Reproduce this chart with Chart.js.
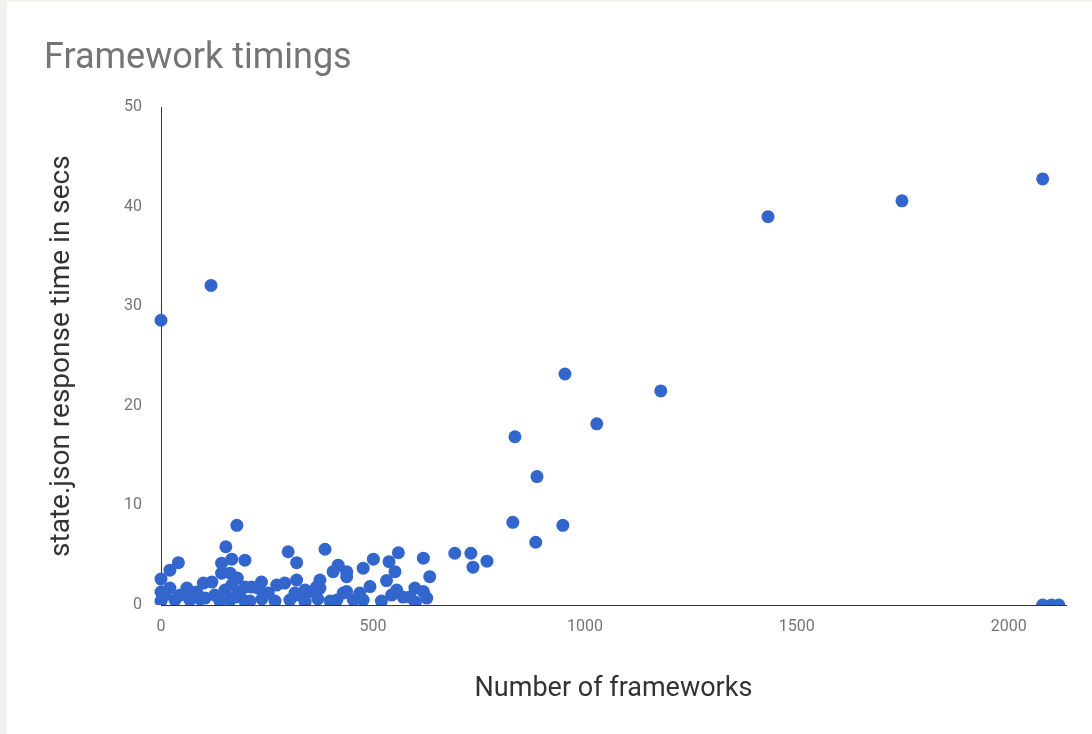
<!DOCTYPE html>
<html>
<head>
<meta charset="utf-8">
<script src="https://cdn.jsdelivr.net/npm/chart.js@4.4.1/dist/chart.umd.min.js"></script>
<style>
  html, body { margin: 0; padding: 0; background: #f2f2ee; }
  .card {
    position: absolute;
    left: 7px; top: 2px;
    width: 1085px; height: 732px;
    background: #fff;
  }
</style>
</head>
<body>
<div class="card"><canvas id="timingsChart"></canvas></div>
<script>
// número de frameworks (x) y tiempo de respuesta de state.json (y)
const frameworks = [
  0, 0, 0, 21, 41, 21, 61, 84, 100, 120,
  143, 153, 167, 163, 143, 180, 198, 198,
  9, 33, 45, 68, 92, 104, 127, 139, 151, 163, 167, 175, 186, 198,
  300, 387, 320, 418, 406, 375, 320, 237, 292, 273, 214, 347, 375, 430, 253, 324, 340, 229, 367, 316,
  210, 238, 269, 304, 340, 370, 399,
  560, 501, 619, 538, 477, 552, 438, 438, 634, 532, 493, 438, 469, 556, 599, 619, 571, 587, 627, 454, 477, 544, 600, 520, 415,
  0, 118, 179, 693, 731, 736, 769, 830, 835, 884, 887, 948, 953, 1028, 1179, 1432, 1748, 2080, 2080, 2101, 2118
];
const responseSecs = [
  2.6, 1.3, 0.4, 3.5, 4.25, 1.7, 1.7, 1.3, 2.2, 2.3,
  4.2, 5.85, 4.6, 3.2, 3.2, 2.7, 4.5, 1.8,
  1.0, 0.5, 1.0, 0.5, 0.6, 0.7, 1.0, 0.4, 1.5, 0.5, 2.0, 0.8, 1.3, 0.4,
  5.35, 5.6, 4.25, 4.0, 3.35, 2.5, 2.5, 2.3, 2.2, 2.0, 1.8, 1.3, 1.7, 1.2, 1.2, 1.0, 1.5, 1.7, 1.8, 1.2,
  0.4, 0.6, 0.4, 0.5, 0.3, 0.6, 0.4,
  5.25, 4.6, 4.7, 4.35, 3.7, 3.35, 3.35, 2.85, 2.85, 2.45, 1.85, 1.35, 1.2, 1.5, 1.7, 1.35, 0.8, 0.8, 0.7, 0.5, 0.5, 1.0, 0.3, 0.4, 0.5,
  28.6, 32.1, 8.0, 5.2, 5.2, 3.8, 4.4, 8.3, 16.9, 6.3, 12.9, 8.0, 23.2, 18.2, 21.5, 39.0, 40.6, 42.8, 0, 0, 0
];
const xTicks = [0, 500, 1000, 1500, 2000];
const yTicks = [0, 10, 20, 30, 40, 50];

const gray = '#757575';
const points = frameworks.map((x, i) => ({ x: x, y: responseSecs[i] }));

const ctx = document.getElementById('timingsChart').getContext('2d');
new Chart(ctx, {
  type: 'scatter',
  data: {
    datasets: [{
      label: 'state.json',
      data: points,
      backgroundColor: '#3366cc',
      borderWidth: 0,
      pointRadius: 6.5,
      pointHoverRadius: 6.5,
      clip: { left: false, top: false, right: false, bottom: 0 }
    }]
  },
  options: {
    responsive: true,
    maintainAspectRatio: false,
    animation: false,
    layout: { padding: { left: 37, right: 26, top: 0, bottom: 0 } },
    plugins: {
      legend: { display: false },
      tooltip: { enabled: false },
      title: {
        display: true,
        text: 'Framework timings',
        align: 'start',
        color: gray,
        font: { family: 'Roboto', size: 36, weight: 'normal' },
        padding: { top: 35, bottom: 27 }
      }
    },
    scales: {
      x: {
        type: 'linear',
        min: 0,
        max: 2135,
        afterFit: (scale) => { scale.height = 129; },
        afterBuildTicks: (scale) => { scale.ticks = xTicks.map(v => ({ value: v })); },
        grid: { display: false, drawTicks: false },
        border: { display: true, color: '#333', width: 1 },
        ticks: {
          padding: 12,
          color: gray,
          font: { family: 'Roboto', size: 16 },
          callback: (v) => String(v)
        },
        title: {
          display: true,
          text: 'Number of frameworks',
          color: '#333',
          font: { family: 'Roboto', size: 27 },
          padding: { bottom: 29 }
        }
      },
      y: {
        min: 0,
        max: 50,
        afterFit: (scale) => { scale.width = 117; },
        afterBuildTicks: (scale) => { scale.ticks = yTicks.map(v => ({ value: v })); },
        grid: { display: false, drawTicks: false },
        border: { display: true, color: '#333', width: 1 },
        ticks: {
          padding: 19,
          color: gray,
          font: { family: 'Roboto', size: 16 },
          callback: (v) => String(v)
        },
        title: {
          display: true,
          text: 'state.json response time in secs',
          color: '#333',
          font: { family: 'Roboto', size: 28 },
          padding: { top: 1 }
        }
      }
    }
  }
});
</script>
</body>
</html>
